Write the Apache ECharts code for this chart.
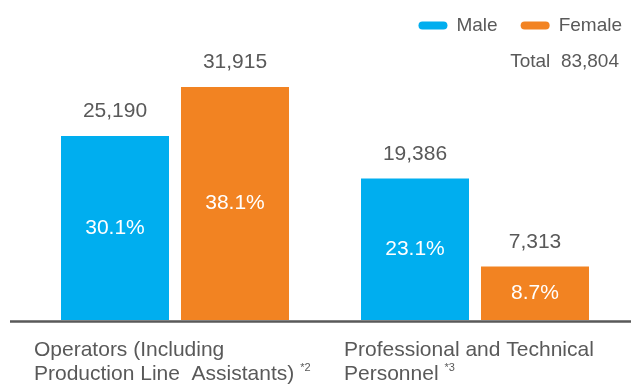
<!DOCTYPE html>
<html>
<head>
<meta charset="utf-8">
<style>
  html, body { margin: 0; padding: 0; background: #ffffff; }
  #chart { width: 631px; height: 384px; }
</style>
<script src="https://cdn.jsdelivr.net/npm/echarts@6/dist/echarts.min.js"></script>
</head>
<body>
<div id="chart"></div>
<script>
// Employees by job type and gender
const categories = [
  ['Operators (Including', 'Production Line  Assistants)'],
  ['Professional and Technical', 'Personnel']
];
const notes = ['*2', '*3'];
const seriesNames = ['Male', 'Female'];
const maleValues = [25190, 19386];
const femaleValues = [31915, 7313];

const BLUE = '#00AEEF';
const ORANGE = '#F28322';
const GREY = '#595959';
const FONT = '"Liberation Sans", Arial, Helvetica, sans-serif';

const total = maleValues.concat(femaleValues).reduce((s, v) => s + v, 0);
const fmt = v => v.toLocaleString('en-US');
const pct = v => (v / total * 100).toFixed(1) + '%';

const chart = echarts.init(document.getElementById('chart'), null, { renderer: 'canvas' });

// Coloured bar with its share of the total written inside
function shareBar(name, values, color) {
  return {
    name: name,
    type: 'bar',
    stack: name,
    barWidth: 108,
    barGap: '11.1%',
    itemStyle: { color: color },
    emphasis: { disabled: true },
    data: values,
    label: {
      show: true,
      position: 'inside',
      formatter: p => pct(p.value),
      color: '#ffffff',
      fontSize: 21,
      fontFamily: FONT
    }
  };
}

// Zero-height cap stacked on the bar, carrying the headcount above it
function headcountCap(name, values) {
  return {
    name: name + ' headcount',
    type: 'bar',
    stack: name,
    barWidth: 108,
    barGap: '11.1%',
    itemStyle: { color: 'transparent' },
    silent: true,
    data: values.map(() => 0),
    label: {
      show: true,
      position: 'top',
      distance: 14,
      formatter: p => fmt(values[p.dataIndex]),
      color: GREY,
      fontSize: 21,
      fontFamily: FONT
    }
  };
}

const option = {
  animation: false,
  textStyle: { fontFamily: FONT },
  title: {
    text: 'Total  ' + fmt(total),
    right: 7,
    top: 47,
    textStyle: { color: GREY, fontSize: 19, fontWeight: 'normal', fontFamily: FONT }
  },
  legend: {
    data: seriesNames,
    right: 4,
    top: 11,
    itemWidth: 29,
    itemHeight: 8,
    itemGap: 23,
    icon: 'path://M4,0 H25 A4,4 0 0 1 25,8 H4 A4,4 0 0 1 4,0 Z',
    textStyle: { color: GREY, fontSize: 19, fontFamily: FONT, padding: [0, 0, 0, 4] },
    selectedMode: false
  },
  grid: { left: 25, right: 6, top: 28, bottom: 64, outerBoundsMode: 'none', containLabel: false },
  xAxis: {
    type: 'category',
    data: categories.map(c => c.join('\n')),
    axisLine: { show: false },
    axisTick: { show: false },
    axisLabel: {
      interval: 0,
      margin: 18,
      width: 282,
      align: 'center',
      formatter: (val, idx) => {
        const lines = val.split('\n');
        const a = 'a' + idx;
        return '{' + a + '|' + lines[0] + '}\n{' + a + '|' + lines[1] + ' }{s|' + notes[idx] + '}';
      },
      rich: {
        a0: { align: 'left', color: GREY, fontSize: 21, lineHeight: 24, fontFamily: FONT },
        a1: { align: 'left', color: GREY, fontSize: 21, lineHeight: 24, fontFamily: FONT, padding: [0, 0, 0, 10] },
        s: { align: 'left', color: GREY, fontSize: 11, lineHeight: 24, verticalAlign: 'top', padding: [0, 0, 6, 0], fontFamily: FONT }
      }
    }
  },
  yAxis: {
    type: 'value',
    min: 0,
    max: 40000,
    show: false,
    splitLine: { show: false }
  },
  series: [
    shareBar(seriesNames[0], maleValues, BLUE),
    shareBar(seriesNames[1], femaleValues, ORANGE),
    headcountCap(seriesNames[0], maleValues),
    headcountCap(seriesNames[1], femaleValues)
  ]
};

chart.setOption(option);

// Baseline spanning the full width below the bars
const y0 = chart.convertToPixel({ yAxisIndex: 0 }, 0);
chart.setOption({
  graphic: [{
    type: 'line',
    shape: { x1: 10, y1: y0 + 1.5, x2: 631, y2: y0 + 1.5 },
    style: { stroke: GREY, lineWidth: 2.5 },
    silent: true,
    z: 10
  }]
});
</script>
</body>
</html>
